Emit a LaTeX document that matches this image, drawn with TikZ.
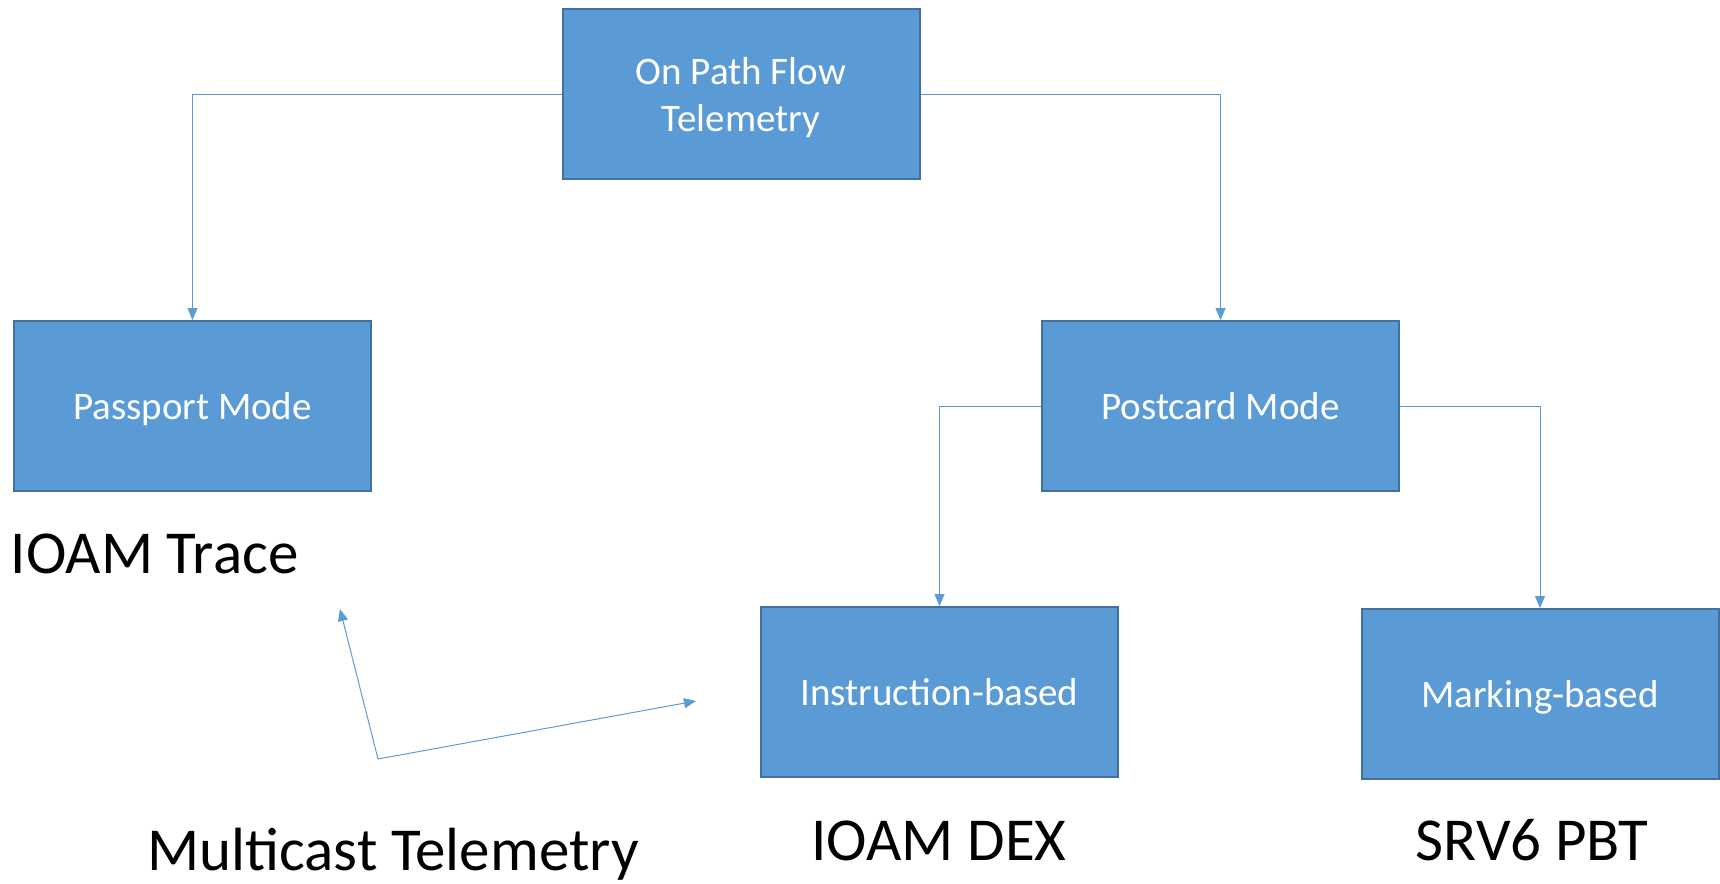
\documentclass[tikz,border=0pt]{standalone}
\usepackage{fontspec}
\setmainfont{Carlito}
\usetikzlibrary{arrows.meta}
\definecolor{boxfill}{HTML}{5B9BD5}
\definecolor{boxline}{HTML}{41719C}
\tikzset{
  modebox/.style={draw=boxline, line width=1pt, fill=boxfill, text=white,
    minimum width=178.5pt, minimum height=85pt, inner sep=0pt, align=center,
    text depth=0pt, font=\fontsize{19.5}{23.5}\selectfont},
  biglabel/.style={anchor=base, inner sep=0pt, font=\fontsize{30.5}{36}\selectfont},
  link/.style={draw=boxfill, line width=0.5pt, -{Triangle[length=6pt,width=5pt]}}
}
\begin{document}
\begin{tikzpicture}[x=0.5pt, y=-0.5pt]
\useasboundingbox (0,0) rectangle (1720,884);
\node[modebox] (flow) at (741,94) {On Path Flow\\Telemetry};
\node[modebox] (passport) at (192.5,406) {Passport Mode};
\node[modebox] (postcard) at (1220.5,406) {Postcard Mode};
\node[modebox] (instr) at (939.5,692) {Instruction-based};
\node[modebox] (marking) at (1540,694) {Marking-based};
\node[biglabel] (trace) at (154.5,573) {IOAM Trace};
\node[biglabel] (mcast) at (393,870) {Multicast Telemetry};
\node[biglabel] (dex) at (939,860) {IOAM DEX};
\node[biglabel] (pbt) at (1532,860) {SRV6 PBT};
\draw[link] (flow.west) -| (passport.north);
\draw[link] (flow.east) -| (postcard.north);
\draw[link] (postcard.west) -| (instr.north);
\draw[link] (postcard.east) -| (marking.north);
\coordinate (bend) at (378,759);
\coordinate (uptip) at (340,609);
\coordinate (righttip) at (696,701);
\draw[link] (bend) -- (uptip);
\draw[link] (bend) -- (righttip);
\end{tikzpicture}
\end{document}
